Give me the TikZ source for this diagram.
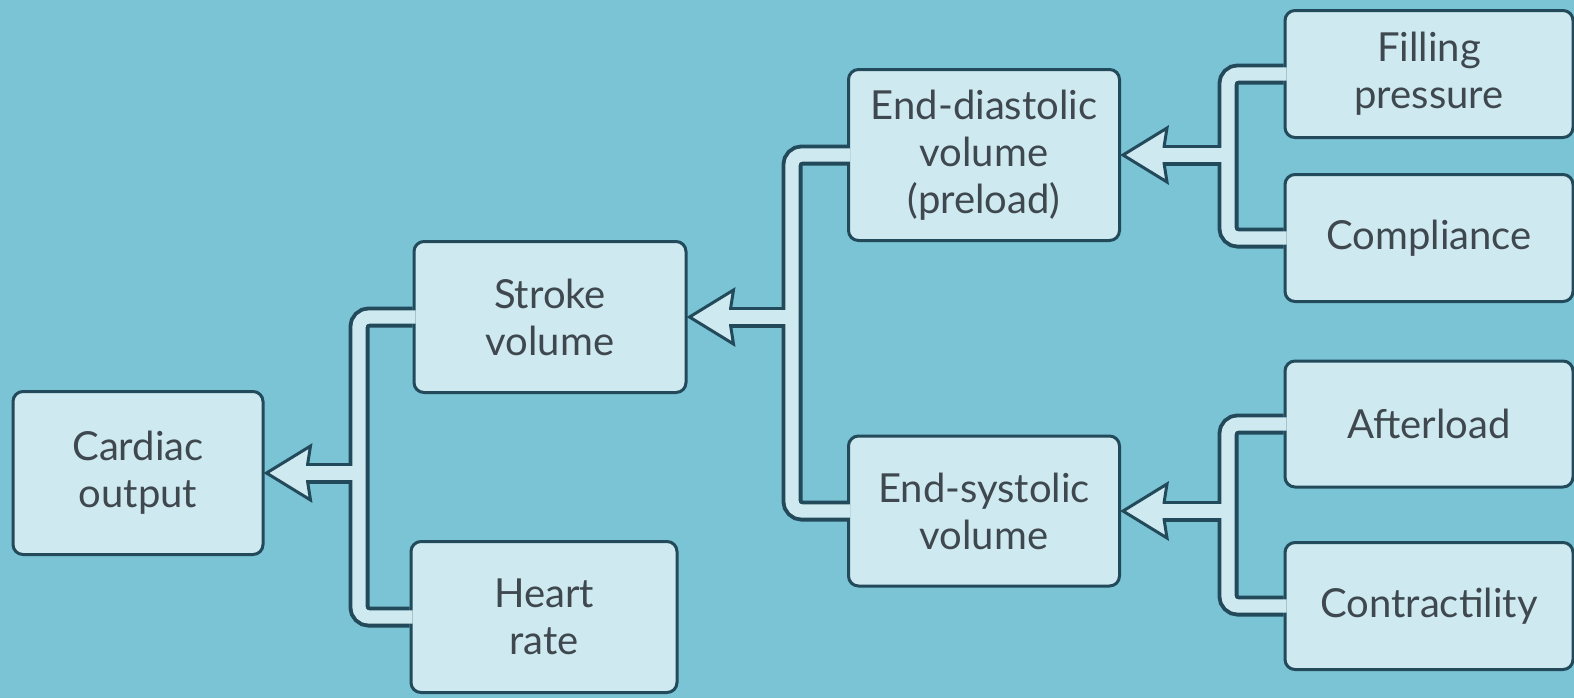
\documentclass[tikz,border=0pt]{standalone}
\usepackage{fontspec}
\setmainfont{Lato}
\usetikzlibrary{calc}
\definecolor{bgblue}{RGB}{122,196,213}
\definecolor{boxblue}{RGB}{206,233,240}
\definecolor{edgeblue}{RGB}{34,74,90}
\definecolor{textgrey}{RGB}{62,72,78}

\tikzset{
  factor/.style={draw=edgeblue, fill=boxblue, line width=1.5pt, rounded corners=5pt,
    align=center, text=textgrey, inner sep=0pt, font=\fontsize{20}{23.5}\selectfont},
  pipeout/.style={draw=edgeblue, line width=10.5pt, rounded corners=5pt},
  pipein/.style={draw=boxblue, line width=6.6pt, rounded corners=5pt},
  head/.style={draw=edgeblue, fill=boxblue, line width=1.5pt, line join=miter},
}

\begin{document}
\begin{tikzpicture}[x=0.5pt, y=-0.5pt]
  \fill[bgblue] (0,0) rectangle (1574,698);
  \useasboundingbox (0,0) rectangle (1574,698);

  % boxes
  \node[factor, minimum width=125pt, minimum height=81.5pt] (co) at (138,473) {Cardiac\\output};
  \node[factor, minimum width=136pt, minimum height=75.5pt] (sv) at (550,317) {Stroke\\volume};
  \node[factor, minimum width=133pt, minimum height=75.5pt] (hr) at (544,617) {Heart\\rate};
  \node[factor, minimum width=135.5pt, minimum height=85.5pt] (edv) at (984,155) {End-diastolic\\volume\\(preload)};
  \node[factor, minimum width=135.5pt, minimum height=75pt] (esv) at (984,511) {End-systolic\\volume};
  \node[factor, minimum width=144pt, minimum height=63.5pt] (fp) at (1429,74) {Filling\\pressure};
  \node[factor, minimum width=144pt, minimum height=63.5pt] (comp) at (1429,238) {Compliance};
  \node[factor, minimum width=144pt, minimum height=63pt] (aft) at (1429,424) {Afterload};
  \node[factor, minimum width=144pt, minimum height=63.5pt] (con) at (1429,606) {Contractility};

  % vertical spines of the pipes
  \coordinate (sp1) at (359,0);
  \coordinate (sp2) at (792,0);
  \coordinate (sp3) at (1228,0);

  % dark outlines
  \draw[pipeout] (sv.west) -- (sv.west -| sp1) -- (hr.west -| sp1) -- (hr.west);
  \draw[pipeout] (co.east -| sp1) -- ($(co.east)+(43,0)$);
  \draw[pipeout] (edv.west) -- (edv.west -| sp2) -- (esv.west -| sp2) -- (esv.west);
  \draw[pipeout] (sv.east -| sp2) -- ($(sv.east)+(43,0)$);
  \draw[pipeout] (fp.west) -- (fp.west -| sp3) -- (comp.west -| sp3) -- (comp.west);
  \draw[pipeout] (edv.east -| sp3) -- ($(edv.east)+(43,0)$);
  \draw[pipeout] (aft.west) -- (aft.west -| sp3) -- (con.west -| sp3) -- (con.west);
  \draw[pipeout] (esv.east -| sp3) -- ($(esv.east)+(43,0)$);

  % arrowheads
  \foreach \t in {co,sv,edv,esv}
    \draw[head] ($(\t.east)+(2,0)$) -- ++(44,-27) -- ++(-3,19) -- ++(0,16) -- ++(3,19) -- cycle;

  % light insides
  \draw[pipein] ($(sv.west)+(3,0)$) -- (sv.west -| sp1) -- (hr.west -| sp1) -- ($(hr.west)+(3,0)$);
  \draw[pipein] (co.east -| sp1) -- ($(co.east)+(38,0)$);
  \draw[pipein] ($(edv.west)+(3,0)$) -- (edv.west -| sp2) -- (esv.west -| sp2) -- ($(esv.west)+(3,0)$);
  \draw[pipein] (sv.east -| sp2) -- ($(sv.east)+(38,0)$);
  \draw[pipein] ($(fp.west)+(3,0)$) -- (fp.west -| sp3) -- (comp.west -| sp3) -- ($(comp.west)+(3,0)$);
  \draw[pipein] (edv.east -| sp3) -- ($(edv.east)+(38,0)$);
  \draw[pipein] ($(aft.west)+(3,0)$) -- (aft.west -| sp3) -- (con.west -| sp3) -- ($(con.west)+(3,0)$);
  \draw[pipein] (esv.east -| sp3) -- ($(esv.east)+(38,0)$);
\end{tikzpicture}
\end{document}
